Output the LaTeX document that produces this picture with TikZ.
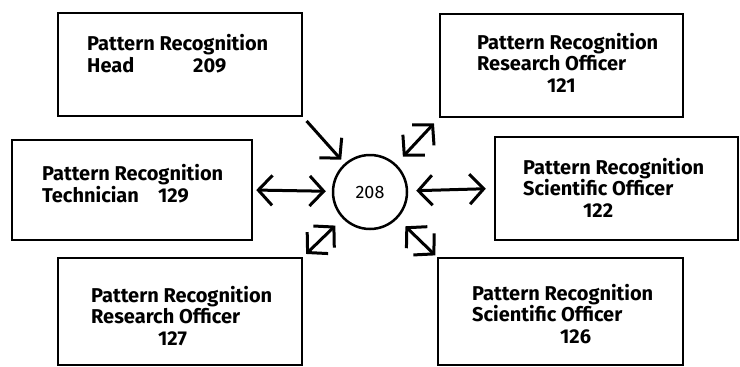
\documentclass[tikz,border=0pt]{standalone}
\usepackage{fontspec}
\setmainfont{Fira Sans}
\usetikzlibrary{arrows.meta}
\begin{document}
\begin{tikzpicture}[x=1pt,y=-1pt,
  box/.style={draw, line width=2.5pt, inner sep=0pt},
  % multi-line labels are placed by the baseline of their last line
  lbl/.style={anchor=base west, align=left, inner sep=0pt,
    font=\fontsize{20}{21.5}\selectfont\bfseries},
  hub/.style={draw, circle, line width=2.5pt, minimum size=74pt, inner sep=0pt,
    font=\fontsize{18}{20}\selectfont},
  tip/.tip={Straight Barb[length=14pt,width=30pt]},
  link/.style={line width=3pt, tip-tip},
  feed/.style={line width=3pt, -tip}]
\useasboundingbox (0,0) rectangle (740,367);

% staff boxes
\node[box, minimum width=244pt, minimum height=103pt] (head) at (180,64.5) {};
\node[box, minimum width=240pt, minimum height=100pt] (tech) at (132,190) {};
\node[box, minimum width=244pt, minimum height=107pt] (roB) at (180,311.5) {};
\node[box, minimum width=243pt, minimum height=103pt] (roA) at (561.5,65.5) {};
\node[box, minimum width=243pt, minimum height=103pt] (soA) at (616.5,188.5) {};
\node[box, minimum width=245pt, minimum height=107pt] (soB) at (560.5,311.5) {};

% box texts
\node[lbl] (headtxt) at (87,72) {Pattern Recognition\\\makebox[106pt][l]{Head}209};
\node[lbl] (techtxt) at (42,202) {Pattern Recognition\\\makebox[116pt][l]{Technician}129};
\node[lbl] (roBtxt) at (91,345) {Pattern Recognition\\Research Officer\\\hspace*{67pt}127};
\node[lbl] (roAtxt) at (477,92) {Pattern Recognition\\Research Officer\\\hspace*{70pt}121};
\node[lbl] (soAtxt) at (523,217) {Pattern Recognition\\Scientific Officer\\\hspace*{60pt}122};
\node[lbl] (soBtxt) at (472,343) {Pattern Recognition\\Scientific Officer\\\hspace*{88pt}126};

% central unit
\node[hub] (hub) at (370,192) {208};

% connections
\draw[feed, shorten <=5pt, shorten >=5pt] (head.south east) -- (hub);
\draw[link, shorten <=10pt, shorten >=7pt] (hub) -- (roA.south west);
\draw[link, shorten <=3pt, shorten >=6pt] (tech.east) -- (hub);
\draw[link, shorten <=8pt, shorten >=8pt] (hub) -- (soA.west);
\draw[link, shorten <=4pt, shorten >=10pt] (roB.north east) -- (hub);
\draw[link, shorten <=11pt, shorten >=2pt] (hub) -- (soB.north west);
\end{tikzpicture}
\end{document}
